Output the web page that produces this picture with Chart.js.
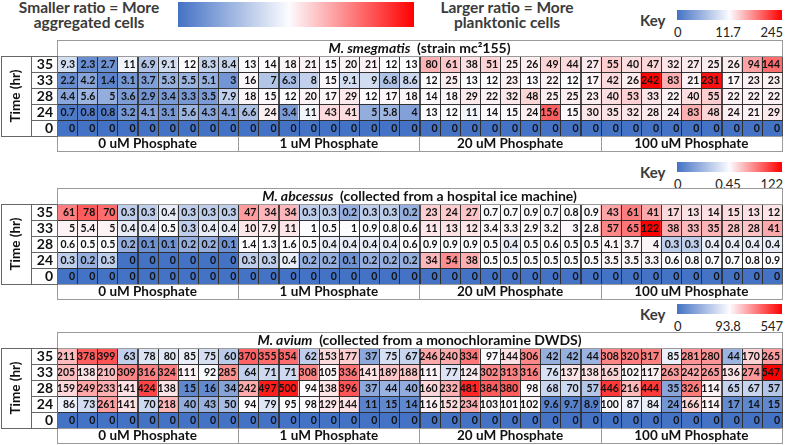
<!DOCTYPE html>
<html>
<head>
<meta charset="utf-8">
<script src="https://cdn.jsdelivr.net/npm/chart.js@4"></script>
<style>
  body { margin: 0; width: 785px; height: 445px; position: relative; overflow: hidden; background: #fff; font-family: Lato, "Open Sans", sans-serif; }
  .abs { position: absolute; }
  .hdr { font-weight: bold; font-size: 15.5px; line-height: 15px; color: #3b3b3b; text-align: center; }
  .key { font-weight: bold; font-size: 15px; color: #3b3b3b; }
  .klab { font-size: 13px; color: #222; }
  canvas { position: absolute; left: 0; }
</style>
</head>
<body>
<!-- entete -->
<div class="abs hdr" style="left:0; width:178px; top:0;">Smaller ratio = More<br>aggregated cells</div>
<div class="abs" style="left:178px; top:2px; width:236px; height:25px; background:linear-gradient(to right, #4472c4 0%, #fcfcff 47%, #ff0000 100%);"></div>
<div class="abs hdr" style="left:416px; width:182px; top:0;">Larger ratio = More<br>planktonic cells</div>

<div id="keys"></div>

<canvas id="c1" width="785" height="120" style="top:38px"></canvas>
<canvas id="c2" width="785" height="120" style="top:186px"></canvas>
<canvas id="c3" width="785" height="120" style="top:330px"></canvas>

<script>
// linhas (tempo) e grupos
const rows = ['35', '33', '28', '24', '0'];
const groups = ['0 uM Phosphate', '1 uM Phosphate', '20 uM Phosphate', '100 uM Phosphate'];

// M. smegmatis
const smegKey = [0, 11.7, 245];
const smeg35 = [9.3, 2.3, 2.7, 11, 6.9, 9.1, 12, 8.3, 8.4, 13, 14, 18, 21, 15, 20, 21, 12, 13, 80, 61, 38, 51, 25, 26, 49, 44, 27, 55, 40, 47, 32, 27, 25, 26, 94, 144];
const smeg33 = [2.2, 4.2, 1.4, 3.1, 3.7, 5.3, 5.5, 5.1, 3, 16, 7, 6.3, 8, 15, 9.1, 9, 6.8, 8.6, 12, 25, 13, 12, 23, 13, 22, 12, 17, 42, 26, 242, 83, 21, 231, 17, 23, 23];
const smeg28 = [4.4, 5.6, 5, 3.6, 2.9, 3.4, 3.3, 3.5, 7.9, 18, 15, 12, 20, 17, 29, 12, 17, 18, 14, 18, 29, 22, 32, 48, 25, 25, 23, 40, 53, 33, 22, 40, 55, 22, 22, 22];
const smeg24 = [0.7, 0.8, 0.8, 3.2, 4.1, 3.1, 5.6, 4.3, 4.1, 6.6, 24, 3.4, 11, 43, 41, 5, 5.8, 4, 13, 12, 11, 14, 15, 24, 156, 15, 30, 35, 32, 28, 24, 83, 48, 24, 21, 29];
const smeg0 = [0, 0, 0, 0, 0, 0, 0, 0, 0, 0, 0, 0, 0, 0, 0, 0, 0, 0, 0, 0, 0, 0, 0, 0, 0, 0, 0, 0, 0, 0, 0, 0, 0, 0, 0, 0];

// M. abcessus
const abcKey = [0, 0.45, 122];
const abc35 = [61, 78, 70, 0.3, 0.3, 0.4, 0.3, 0.3, 0.3, 47, 34, 34, 0.3, 0.3, 0.2, 0.3, 0.3, 0.2, 23, 24, 27, 0.7, 0.7, 0.9, 0.7, 0.8, 0.9, 43, 61, 41, 17, 13, 14, 15, 13, 12];
const abc33 = [5, 5.4, 5, 0.4, 0.4, 0.5, 0.3, 0.4, 0.4, 10, 7.9, 11, 1, 0.5, 1, 0.9, 0.8, 0.6, 11, 13, 12, 3.4, 3.3, 2.9, 3.2, 3, 2.8, 57, 65, 122, 38, 33, 35, 28, 28, 41];
const abc28 = [0.6, 0.5, 0.5, 0.2, 0.1, 0.1, 0.2, 0.2, 0.1, 1.4, 1.3, 1.6, 0.5, 0.4, 0.4, 0.4, 0.4, 0.6, 0.9, 0.9, 0.9, 0.5, 0.4, 0.5, 0.6, 0.5, 0.5, 4.1, 3.7, 4, 0.3, 0.3, 0.4, 0.4, 0.4, 0.4];
const abc24 = [0.3, 0.2, 0.3, 0, 0, 0, 0, 0, 0, 0.3, 0.3, 0.4, 0.2, 0.2, 0.1, 0.2, 0.2, 0.2, 34, 54, 38, 0.5, 0.5, 0.5, 0.5, 0.5, 0.5, 3.5, 3.5, 3.3, 0.6, 0.8, 0.7, 0.7, 0.8, 0.9];
const abc0 = [0, 0, 0, 0, 0, 0, 0, 0, 0, 0, 0, 0, 0, 0, 0, 0, 0, 0, 0, 0, 0, 0, 0, 0, 0, 0, 0, 0, 0, 0, 0, 0, 0, 0, 0, 0];

// M. avium
const aviKey = [0, 93.8, 547];
const avi35 = [211, 378, 399, 63, 78, 80, 85, 75, 60, 370, 355, 354, 62, 153, 177, 37, 75, 67, 246, 240, 334, 97, 144, 306, 42, 42, 44, 308, 320, 317, 85, 281, 280, 44, 170, 265];
const avi33 = [205, 138, 210, 309, 316, 324, 111, 92, 285, 64, 71, 71, 308, 105, 336, 141, 189, 188, 111, 77, 124, 302, 313, 316, 76, 137, 138, 165, 102, 117, 263, 242, 265, 136, 274, 547];
const avi28 = [159, 249, 233, 141, 424, 138, 15, 16, 34, 242, 497, 500, 94, 138, 396, 37, 44, 40, 160, 232, 481, 384, 380, 98, 68, 70, 57, 446, 216, 444, 35, 326, 114, 65, 67, 57];
const avi24 = [86, 73, 261, 141, 70, 218, 40, 43, 50, 94, 79, 95, 98, 129, 144, 11, 15, 14, 116, 152, 234, 103, 101, 102, 9.6, 9.7, 8.9, 100, 87, 84, 24, 166, 114, 17, 14, 15];
const avi0 = [0, 0, 0, 0, 0, 0, 0, 0, 0, 0, 0, 0, 0, 0, 0, 0, 0, 0, 0, 0, 0, 0, 0, 0, 0, 0, 0, 0, 0, 0, 0, 0, 0, 0, 0, 0];

const panels = [
  { id: 'c1', name: 'M. smegmatis', note: '  (strain mc\u00b2155)', values: [smeg35, smeg33, smeg28, smeg24, smeg0], key: smegKey, keyTop: 10 },
  { id: 'c2', name: 'M. abcessus', note: '  (collected from a hospital ice machine)', values: [abc35, abc33, abc28, abc24, abc0], key: abcKey, keyTop: 162 },
  { id: 'c3', name: 'M. avium', note: '  (collected from a monochloramine DWDS)', values: [avi35, avi33, avi28, avi24, avi0], key: aviKey, keyTop: 304 }
];

const BLUE = [68, 114, 196], WHITE = [252, 252, 255], RED = [255, 0, 0];

function cellColor(v, key){
  let a, b, t;
  if (v <= key[1]) { a = BLUE; b = WHITE; t = (v - key[0]) / (key[1] - key[0]); }
  else { a = WHITE; b = RED; t = (v - key[1]) / (key[2] - key[1]); }
  t = Math.max(0, Math.min(1, t));
  const c = a.map((x, i) => Math.round(x + (b[i] - x) * t));
  return `rgb(${c[0]},${c[1]},${c[2]})`;
}

// desenha textos, bordas e caixas em volta da grade
const panelPlugin = {
  id: 'panelPlugin',
  afterDatasetsDraw(chart){
    const ctx = chart.ctx;
    const p = chart.options.plugins.panelPlugin.panel;
    ctx.save();
    ctx.font = 'bold 10.5px Lato';
    ctx.textAlign = 'right';
    ctx.textBaseline = 'middle';
    chart.data.datasets.forEach((ds, r) => {
      chart.getDatasetMeta(r).data.forEach((el, i) => {
        const w = el.width, top = Math.min(el.y, el.base), h = Math.abs(el.base - el.y);
        ctx.strokeStyle = 'rgba(45,45,45,0.85)';
        ctx.lineWidth = 1;
        ctx.strokeRect(Math.round(el.x - w / 2) + 0.5, Math.round(top) + 0.5, Math.round(w), Math.round(h));
        ctx.fillStyle = '#111';
        ctx.fillText(String(p.values[r][i]), el.x + w / 2 - 2, top + h / 2 + 0.5);
      });
    });
    ctx.restore();
  },
  afterDraw(chart){
    const ctx = chart.ctx;
    const p = chart.options.plugins.panelPlugin.panel;
    const a = chart.chartArea;
    const xs = chart.scales.x, ys = chart.scales.y;
    const colW = xs.getPixelForValue(1) - xs.getPixelForValue(0);
    ctx.save();
    ctx.strokeStyle = '#9a9a9a';
    ctx.lineWidth = 1;
    // caixa do titulo
    ctx.strokeRect(Math.round(a.left) + 0.5, Math.round(a.top) - 16 + 0.5, Math.round(a.right - a.left), 16);
    ctx.font = 'italic bold 14px Lato';
    const w1 = ctx.measureText(p.name).width;
    ctx.font = 'bold 14px Lato';
    const w2 = ctx.measureText(p.note).width;
    const tx = (a.left + a.right) / 2 - (w1 + w2) / 2;
    ctx.fillStyle = '#111';
    ctx.textBaseline = 'middle';
    ctx.textAlign = 'left';
    ctx.font = 'italic bold 14px Lato';
    ctx.fillText(p.name, tx, a.top - 7.5);
    ctx.font = 'bold 14px Lato';
    ctx.fillText(p.note, tx + w1, a.top - 7.5);
    // linha dos grupos
    ctx.font = 'bold 13.5px Lato';
    ctx.strokeRect(Math.round(a.left) + 0.5, Math.round(a.bottom) + 0.5, Math.round(a.right - a.left), 15);
    ctx.textAlign = 'center';
    groups.forEach((g, k) => {
      const x0 = xs.getPixelForValue(k * 9) - colW / 2;
      const x1 = xs.getPixelForValue(k * 9 + 8) + colW / 2;
      ctx.beginPath();
      ctx.moveTo(Math.round(x0) + 0.5, a.bottom);
      ctx.lineTo(Math.round(x0) + 0.5, a.bottom + 15);
      ctx.stroke();
      ctx.fillText(g, (x0 + x1) / 2, a.bottom + 8);
    });
    // caixas da esquerda
    ctx.strokeStyle = '#666';
    ctx.strokeRect(1.5, Math.round(a.top) + 0.5, Math.round(a.left) - 1, Math.round(a.bottom - a.top));
    ctx.beginPath();
    ctx.moveTo(31.5, a.top); ctx.lineTo(31.5, a.bottom);
    ctx.stroke();
    ctx.font = 'bold 14px Lato';
    ctx.textAlign = 'right';
    rows.forEach((lab, r) => {
      const yTop = ys.getPixelForValue(5 - r), yBot = ys.getPixelForValue(4 - r);
      ctx.fillText(lab, a.left - 4, (yTop + yBot) / 2 + 0.5);
      if (r > 0) {
        ctx.beginPath();
        ctx.moveTo(31, Math.round(yTop) + 0.5); ctx.lineTo(a.left, Math.round(yTop) + 0.5);
        ctx.stroke();
      }
    });
    ctx.font = 'bold 13.5px Lato';
    ctx.translate(16, (a.top + a.bottom) / 2);
    ctx.rotate(-Math.PI / 2);
    ctx.textAlign = 'center';
    ctx.fillText('Time (hr)', 0, 0);
    ctx.restore();
  }
};

function makePanel(p){
  const cols = p.values[0].map((_, i) => 'c' + i);
  const datasets = p.values.map((vals, r) => ({
    label: rows[r],
    data: vals.map(() => [4 - r, 5 - r]),
    backgroundColor: ctx => cellColor(p.values[r][ctx.dataIndex], p.key),
    borderWidth: 0,
    barPercentage: 1,
    categoryPercentage: 1
  }));
  new Chart(document.getElementById(p.id), {
    type: 'bar',
    data: { labels: cols, datasets },
    options: {
      responsive: false,
      animation: false,
      devicePixelRatio: 1,
      grouped: false,
      layout: { padding: { left: 57, right: 3, top: 18, bottom: 22 } },
      scales: {
        x: { display: false },
        y: { display: false, min: 0, max: 5 }
      },
      plugins: { legend: { display: false }, tooltip: { enabled: false }, panelPlugin: { panel: p } }
    },
    plugins: [panelPlugin]
  });

  // legenda (Key)
  const keys = document.getElementById('keys');
  const k = document.createElement('div');
  k.innerHTML =
    `<div class="abs key" style="left:640px; top:${p.keyTop + 1}px;">Key</div>` +
    `<div class="abs" style="left:677px; top:${p.keyTop}px; width:105px; height:10px; background:linear-gradient(to right, #4472c4 0%, #fcfcff 50%, #ff0000 100%);"></div>` +
    `<div class="abs klab" style="left:674px; top:${p.keyTop + 14}px;">${p.key[0]}</div>` +
    `<div class="abs klab" style="left:700px; width:56px; text-align:center; top:${p.keyTop + 14}px;">${p.key[1]}</div>` +
    `<div class="abs klab" style="left:730px; width:53px; text-align:right; top:${p.keyTop + 14}px;">${p.key[2]}</div>`;
  keys.appendChild(k);
}

panels.forEach(makePanel);
</script>
</body>
</html>
